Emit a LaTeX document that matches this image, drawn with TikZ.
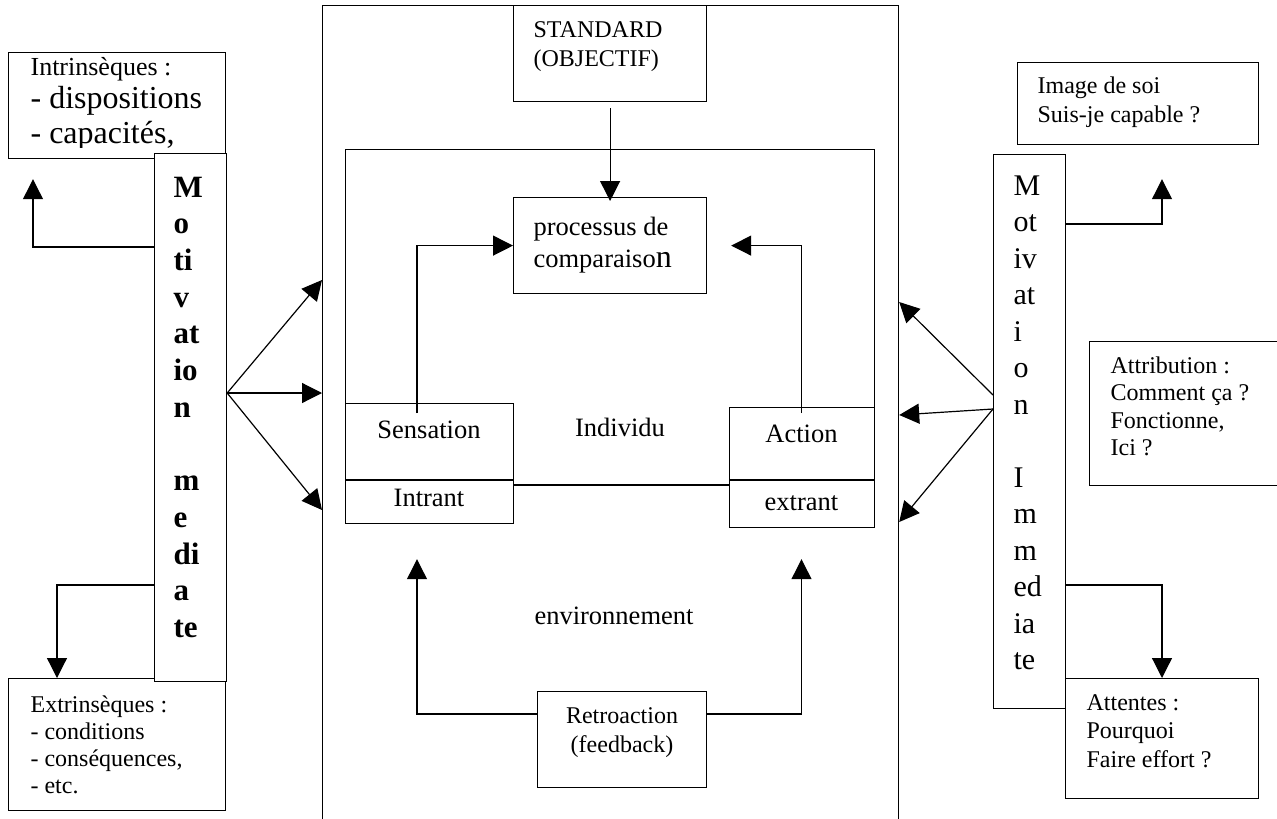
\documentclass[tikz,border=0pt]{standalone}
\usepackage{fontspec}
\setmainfont{Liberation Serif}
\usetikzlibrary{arrows.meta,calc}
\begin{document}
\begin{tikzpicture}[x=1pt,y=-1pt,
  line width=1.2pt,
  box/.style={draw, fill=white, rectangle, inner sep=0pt, anchor=north west},
  frame/.style={draw, rectangle, inner sep=0pt, anchor=north west},
  arr/.style={-{Triangle[length=20pt,width=20pt]}},
  small/.style={inner sep=0pt, anchor=base west, font=\fontsize{24}{28}\selectfont},
  mid/.style={inner sep=0pt, anchor=base, font=\fontsize{26.5}{31}\selectfont},
  midw/.style={inner sep=0pt, anchor=base west, font=\fontsize{26.5}{31}\selectfont},
  colb/.style={inner sep=0pt, anchor=base west, font=\fontsize{31}{36}\selectfont\bfseries},
  colr/.style={inner sep=0pt, anchor=base west, font=\fontsize{30}{36}\selectfont},
  big/.style={inner sep=0pt, anchor=base west, font=\fontsize{32}{36}\selectfont}
]
\clip (0,0) rectangle (1277,819);

% central frame (open at the bottom) and the individual
\node[frame, minimum width=576pt, minimum height=900pt] (frame) at (322,5) {};
\node[frame, minimum width=529pt, minimum height=336pt] (indiv) at (345,149) {};

% central boxes
\node[box, minimum width=193pt, minimum height=96pt] (std) at (513,5) {};
\node[box, minimum width=193pt, minimum height=96pt] (comp) at (513,197) {};
\node[box, minimum width=168pt, minimum height=120pt] (sens) at (345,403) {};
\node[box, minimum width=145pt, minimum height=120pt] (act) at (729,407) {};
\node[box, minimum width=169pt, minimum height=96pt] (retro) at (537,691) {};
\draw ($(sens.north west)+(0,77)$) -- ($(sens.north east)+(0,77)$);
\draw ($(act.north west)+(0,73)$) -- ($(act.north east)+(0,73)$);

% left side boxes
\node[box, minimum width=217pt, minimum height=106pt] (intr) at (8,52) {};
\node[box, minimum width=217pt, minimum height=132pt] (extr) at (8,678) {};
\node[box, minimum width=72pt, minimum height=528pt] (lcol) at (154,153) {};

% right side boxes
\node[box, minimum width=241pt, minimum height=82pt] (img) at (1017,62) {};
\node[box, minimum width=210pt, minimum height=144pt] (attr) at (1089,341) {};
\node[box, minimum width=193pt, minimum height=120pt] (att) at (1065,678) {};
\node[box, minimum width=72pt, minimum height=554pt] (rcol) at (993,154) {};

% central texts
\node[small] (t1) at (533,37) {STANDARD};
\node[small] (t2) at (533,66) {(OBJECTIF)};
\node[midw] (t3) at (533,235) {processus de};
\node[midw] (t4) at (533,267) {comparaiso{\fontsize{32}{32}\selectfont n}};
\node[mid] (t5) at (429,438) {Sensation};
\node[mid] (t6) at (429,506) {Intrant};
\node[mid] (t7) at (620,436) {Individu};
\node[mid] (t8) at (801.5,442) {Action};
\node[mid] (t9) at (801.5,510) {extrant};
\node[mid] (t10) at (614,624) {environnement};
\node[small, anchor=base] (t11) at (622,723) {Retroaction};
\node[small, anchor=base] (t12) at (622,752) {(feedback)};

% left texts
\node[small, font=\fontsize{26}{30}\selectfont] (t13) at (30,75) {Intrinsèques :};
\node[big] (t14) at (30,108) {- dispositions};
\begin{scope}
  \clip (8,52) rectangle (225,147);
  \node[big] (t15) at (30,143) {- capacités,};
\end{scope}
\foreach \t [count=\i from 0] in {Extrinsèques :,- conditions,{- conséquences,},- etc.}
  \node[small] (ex\i) at (30,712+27.2*\i) {\t};
\foreach \t [count=\i from 0] in {M,o,ti,v,at,io,n,{},m,e,di,a,te}
  \node[colb] (lc\i) at (173,197+36.7*\i) {\t};

% right texts
\node[small] (r1) at (1037,93) {Image de soi};
\node[small] (r2) at (1037,122) {Suis-je capable ?};
\foreach \t [count=\i from 0] in {Attribution :,Comment ça ?,{Fonctionne,},Ici ?}
  \node[small] (at\i) at (1110,373+27.5*\i) {\t};
\foreach \t [count=\i from 0] in {Attentes :,Pourquoi,Faire effort ?}
  \node[small] (ap\i) at (1086,710+28.5*\i) {\t};
\foreach \t [count=\i from 0] in {M,ot,iv,at,i,o,n,{},I,m,m,ed,ia,te}
  \node[colr] (rc\i) at (1013,195+36.5*\i) {\t};

% individual: the line between input and output
\draw ($(sens.north east)+(0,82)$) -- ($(act.north west)+(0,78)$);

% standard to comparison
\draw[arr] ($(std.south)+(0,6)$) -- ($(comp.north)+(0,4)$);

% sensation and action loops to comparison
\coordinate (sensIn) at ($(sens.north west)+(72,10)$);
\coordinate (actIn) at ($(act.north west)+(72.5,6)$);
\coordinate (cmpR) at ($(comp.east)+(24,0)$);
\draw[arr] (sensIn) |- (comp.west);
\draw[arr] (actIn) |- (cmpR);

% feedback loops
\coordinate (fbL) at ($(retro.north west)+(0,23)$);
\coordinate (fbR) at ($(retro.north east)+(0,23)$);
\coordinate (upL) at ($(sens.south west)+(72,35)$);
\coordinate (upR) at ($(act.south west)+(72.5,31)$);
\draw[arr] (fbL) -| (upL);
\draw[arr] (fbR) -| (upR);

% left motivation arrows
\coordinate (lsrc) at ($(lcol.north east)+(0,240)$);
\draw[arr] (lsrc) -- (frame.west |- {(0,280)});
\draw[arr] (lsrc) -- (frame.west |- {(0,393)});
\draw[arr] (lsrc) -- (frame.west |- {(0,510)});
\coordinate (intrUp) at ($(intr.south west)+(25,20)$);
\draw[arr] ($(lcol.north west)+(0,94)$) -| (intrUp);
\draw[arr] ($(lcol.north west)+(0,432)$) -| ($(extr.north west)+(49,0)$);

% right motivation arrows
\coordinate (rsrcA) at ($(rcol.north west)+(0,241)$);
\coordinate (rsrcB) at ($(rcol.north west)+(0,255)$);
\draw[arr] (rsrcA) -- (frame.east |- {(0,302)});
\draw[arr] (rsrcB) -- (frame.east |- {(0,415)});
\draw[arr] (rsrcB) -- (frame.east |- {(0,522)});
\coordinate (imgUp) at ($(img.south west)+(145,34)$);
\draw[arr] ($(rcol.north east)+(0,70)$) -| (imgUp);
\draw[arr] ($(rcol.north east)+(0,431)$) -| ($(att.north west)+(97,0)$);
\end{tikzpicture}
\end{document}
